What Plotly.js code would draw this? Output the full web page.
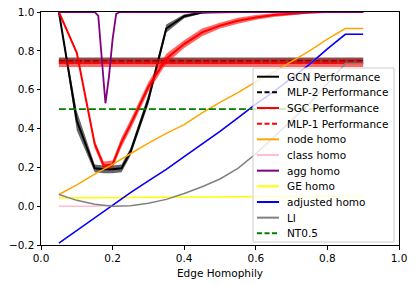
<!DOCTYPE html>
<html>
<head>
<meta charset="utf-8">
<script src="https://cdn.plot.ly/plotly-3.0.1.min.js"></script>
<style>html,body{margin:0;padding:0;background:#fff;}#chart{width:416px;height:285px;}</style>
</head>
<body>
<div id="chart"></div>
<script>
// ---- data ----
const xPerf = [0.05, 0.1, 0.15, 0.175, 0.2, 0.225, 0.25, 0.3, 0.35, 0.4, 0.45, 0.5, 0.55, 0.6, 0.65, 0.7, 0.75, 0.8, 0.85, 0.9];
const gcnMean = [1.0, 0.44, 0.195, 0.19, 0.19, 0.195, 0.28, 0.55, 0.915, 0.978, 0.997, 1.0, 1.0, 1.0, 1.0, 1.0, 1.0, 1.0, 1.0, 1.0];
const gcnStd  = [0.003, 0.05, 0.02, 0.02, 0.02, 0.02, 0.02, 0.025, 0.02, 0.01, 0.005, 0.003, 0.003, 0.003, 0.003, 0.003, 0.003, 0.003, 0.003, 0.003];
const sgcMean = [1.0, 0.79, 0.32, 0.21, 0.215, 0.33, 0.42, 0.615, 0.76, 0.835, 0.895, 0.93, 0.955, 0.972, 0.984, 0.992, 0.997, 1.0, 1.0, 1.0];
const sgcStd  = [0.003, 0.005, 0.02, 0.02, 0.02, 0.025, 0.025, 0.025, 0.025, 0.02, 0.02, 0.015, 0.015, 0.012, 0.01, 0.008, 0.005, 0.004, 0.003, 0.003];
const xMlp = [0.05, 0.9];
const mlp2Mean = [0.749, 0.749];
const mlp2Std  = [0.017, 0.017];
const mlp1Mean = [0.738, 0.738];
const mlp1Std  = [0.021, 0.021];

const xHomo = [0.05, 0.1, 0.15, 0.2, 0.25, 0.3, 0.35, 0.4, 0.45, 0.5, 0.55, 0.6, 0.65, 0.7, 0.75, 0.8, 0.85, 0.9];
const nodeHomo  = [0.06, 0.11, 0.165, 0.215, 0.27, 0.325, 0.375, 0.42, 0.48, 0.535, 0.585, 0.64, 0.69, 0.745, 0.8, 0.86, 0.915, 0.915];
const classHomo = [0.0, 0.0, 0.0, 0.005, 0.07, 0.13, 0.19, 0.255, 0.32, 0.385, 0.455, 0.525, 0.59, 0.66, 0.73, 0.81, 0.885, 0.885];
const geHomo    = [0.042, 0.043, 0.044, 0.045, 0.046, 0.046, 0.047, 0.047, 0.048, 0.048, 0.049, 0.049, 0.05, 0.05, 0.051, 0.051, 0.052, 0.052];
const adjHomo   = [-0.19, -0.125, -0.06, 0.005, 0.07, 0.13, 0.19, 0.255, 0.32, 0.385, 0.455, 0.525, 0.59, 0.66, 0.73, 0.81, 0.885, 0.885];
const liVals    = [0.06, 0.03, 0.01, 0.0, 0.002, 0.015, 0.035, 0.065, 0.1, 0.14, 0.195, 0.27, 0.355, 0.44, 0.53, 0.63, 0.735, 0.735];
const xAgg = [0.05, 0.1, 0.15, 0.16, 0.17, 0.18, 0.19, 0.2, 0.21, 0.22, 0.25, 0.3, 0.4, 0.5, 0.6, 0.7, 0.8, 0.9];
const aggHomo = [1.0, 1.0, 1.0, 0.98, 0.76, 0.53, 0.67, 0.86, 0.99, 1.0, 1.0, 1.0, 1.0, 1.0, 1.0, 1.0, 1.0, 1.0];
const xNT = [0.05, 0.9];
const ntVals = [0.5, 0.5];

const xTicks = [0, 0.2, 0.4, 0.6, 0.8, 1.0];
const xTickLabels = ['0.0', '0.2', '0.4', '0.6', '0.8', '1.0'];
const yTicks = [-0.2, 0, 0.2, 0.4, 0.6, 0.8, 1.0];
const yTickLabels = ['\u22120.2', '0.0', '0.2', '0.4', '0.6', '0.8', '1.0'];

const legendLabels = ['GCN Performance', 'MLP-2 Performance', 'SGC Performance', 'MLP-1 Performance', 'node homo', 'class homo', 'agg homo', 'GE homo', 'adjusted homo', 'LI', 'NT0.5'];
const legendColors = ['#000000', '#000000', '#ff0000', '#ff0000', '#ffa500', '#ffc0cb', '#800080', '#ffff00', '#0000ff', '#808080', '#008000'];
const legendDash = ['solid', 'dash', 'solid', 'dash', 'solid', 'solid', 'solid', 'solid', 'solid', 'solid', 'dash'];

// ---- layout constants ----
const W = 416, H = 285;
const M = {l: 41, r: 17, t: 12, b: 40};
const PW = W - M.l - M.r, PH = H - M.t - M.b;
const px2x = p => (p - M.l) / PW;
const px2y = p => (H - M.b - p) / PH;
const FONT = 'DejaVu Sans, sans-serif';
const FS = 10.5;
const DASH = '6px,2.5px';

function band(x, mean, std, color) {
  const up = mean.map((m, i) => m + std[i]);
  const lo = mean.map((m, i) => m - std[i]);
  return [
    {x: x, y: up, mode: 'lines', line: {width: 0, color: color}, showlegend: false, hoverinfo: 'skip'},
    {x: x, y: lo, mode: 'lines', line: {width: 0, color: color}, fill: 'tonexty', fillcolor: color, showlegend: false, hoverinfo: 'skip'}
  ];
}
function line(x, y, color, width, dash) {
  return {x: x, y: y, mode: 'lines', line: {color: color, width: width, dash: dash || 'solid'}, showlegend: false};
}

const traces = [].concat(
  band(xPerf, gcnMean, gcnStd, 'rgba(0,0,0,0.6)'),
  [line(xPerf, gcnMean, '#000000', 2)],
  band(xMlp, mlp2Mean, mlp2Std, 'rgba(0,0,0,0.6)'),
  [line(xMlp, mlp2Mean, '#000000', 1.6, DASH)],
  band(xPerf, sgcMean, sgcStd, 'rgba(255,0,0,0.6)'),
  [line(xPerf, sgcMean, '#ff0000', 2)],
  band(xMlp, mlp1Mean, mlp1Std, 'rgba(255,0,0,0.6)'),
  [line(xMlp, mlp1Mean, '#ff0000', 1.6, DASH)],
  [line(xHomo, nodeHomo, '#ffa500', 1.5)],
  [line(xHomo, classHomo, '#ffc0cb', 1.5)],
  [line(xAgg, aggHomo, '#800080', 1.8)],
  [line(xHomo, geHomo, '#ffff00', 1.5)],
  [line(xHomo, adjHomo, '#0000ff', 1.5)],
  [line(xHomo, liVals, '#808080', 1.5)],
  [line(xNT, ntVals, '#008000', 1.6, '7px,3px')]
);

// ---- legend (matplotlib style box) ----
const shapes = [];
const annotations = [];
const boxL = 253, boxR = 394, boxT = 68, boxB = 242;
shapes.push({type: 'rect', xref: 'paper', yref: 'paper', x0: px2x(boxL), x1: px2x(boxR), y0: px2y(boxB), y1: px2y(boxT),
  line: {color: '#cccccc', width: 1}, fillcolor: 'rgba(255,255,255,0.8)', layer: 'above'});
const rowTop = 76.7, rowStep = 15.66;
legendLabels.forEach((lab, i) => {
  const yc = rowTop + i * rowStep;
  shapes.push({type: 'line', xref: 'paper', yref: 'paper', x0: px2x(257), x1: px2x(279), y0: px2y(yc), y1: px2y(yc),
    line: {color: legendColors[i], width: 2, dash: legendDash[i] === 'dash' ? '5px,2.5px' : 'solid'}, layer: 'above'});
  annotations.push({xref: 'paper', yref: 'paper', x: px2x(285), y: px2y(yc), text: lab, showarrow: false,
    xanchor: 'left', yanchor: 'middle', font: {family: FONT, size: FS, color: '#000'}});
});

const layout = {
  width: W, height: H,
  margin: M,
  paper_bgcolor: '#ffffff', plot_bgcolor: '#ffffff',
  showlegend: false,
  font: {family: FONT, size: FS, color: '#000'},
  xaxis: {range: [0, 1], tickvals: xTicks, ticktext: xTickLabels, ticks: 'outside', ticklen: 3.5, tickwidth: 1, tickcolor: '#000',
    showline: true, mirror: true, linecolor: '#000', linewidth: 1, showgrid: false, zeroline: false,
    tickfont: {family: FONT, size: FS}, title: {text: 'Edge Homophily', font: {family: FONT, size: FS}, standoff: 6}, automargin: false},
  yaxis: {range: [-0.2, 1.0], tickvals: yTicks, ticktext: yTickLabels, ticks: 'outside', ticklen: 3.5, tickwidth: 1, tickcolor: '#000',
    showline: true, mirror: true, linecolor: '#000', linewidth: 1, showgrid: false, zeroline: false,
    tickfont: {family: FONT, size: FS}, automargin: false},
  shapes: shapes,
  annotations: annotations
};

Plotly.newPlot('chart', traces, layout, {displayModeBar: false, staticPlot: true});
</script>
</body>
</html>
